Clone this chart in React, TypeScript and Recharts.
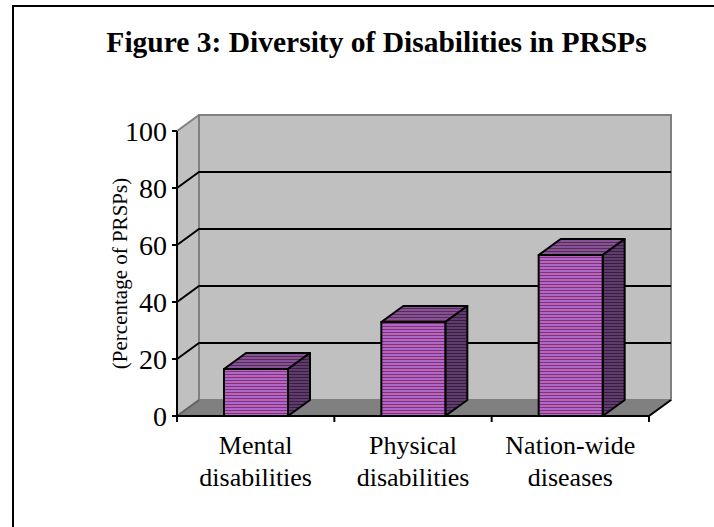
import { Bar, BarChart, ReferenceArea, ReferenceLine, XAxis, YAxis } from 'recharts';

const categories = ['Mental disabilities', 'Physical disabilities', 'Nation-wide diseases'];
const shares = [16.5, 33, 56.5];
const yTicks = [0, 20, 40, 60, 80, 100];
const gridValues = [20, 40, 60, 80];

const data = categories.map((name, i) => ({ name, share: shares[i] }));

// depth of the 3-D box (back plane offset)
const DX = 22;
const DY = 16;
const SERIF = '"Liberation Serif", "Times New Roman", serif';

function Stripes({ id, light, dark }: { id: string; light: string; dark: string }) {
  return (
    <pattern id={id} width={4} height={3} patternUnits="userSpaceOnUse">
      <rect x={0} y={0} width={4} height={2} fill={light} />
      <rect x={0} y={2} width={4} height={1} fill={dark} />
    </pattern>
  );
}

function Walls(props: any) {
  const { x, y, width, height } = props;
  const bottom = y + height;
  return (
    <g>
      <defs>
        <Stripes id="stripeFront" light="#ad68cc" dark="#8c2f68" />
        <Stripes id="stripeTop" light="#855294" dark="#5a2a5e" />
        <Stripes id="stripeSide" light="#5e3c6c" dark="#3a1c40" />
      </defs>
      <polygon
        points={`${x},${y} ${x + DX},${y - DY} ${x + DX},${bottom - DY} ${x},${bottom}`}
        fill="#c0c0c0"
      />
      <rect x={x + DX} y={y - DY} width={width} height={height} fill="#c0c0c0" stroke="#808080" strokeWidth={2} />
      <polygon
        points={`${x},${bottom} ${x + DX},${bottom - DY} ${x + width + DX},${bottom - DY} ${x + width},${bottom}`}
        fill="#808080"
      />
      <line x1={x} y1={y} x2={x + DX} y2={y - DY} stroke="#808080" strokeWidth={2} />
      <line x1={x + DX} y1={y - DY} x2={x + DX} y2={bottom - DY} stroke="#808080" strokeWidth={2} />
      <line x1={x} y1={bottom} x2={x + DX} y2={bottom - DY} stroke="#606060" strokeWidth={2} />
      <line x1={x + width} y1={bottom} x2={x + width + DX} y2={bottom - DY} stroke="#000" strokeWidth={2} />
    </g>
  );
}

// gridline runs up the left wall, then across the back wall
function WallGridLine(props: any) {
  const { x1, y1, x2 } = props;
  return (
    <polyline
      points={`${x1},${y1} ${x1 + DX},${y1 - DY} ${x2 + DX},${y1 - DY}`}
      fill="none"
      stroke="#000"
      strokeWidth={2}
    />
  );
}

function Box3D(props: any) {
  const { x, y, width: w, height: h } = props;
  if (!h) return null;
  const top = `${x},${y} ${x + DX},${y - DY} ${x + w + DX},${y - DY} ${x + w},${y}`;
  const side = `${x + w},${y} ${x + w + DX},${y - DY} ${x + w + DX},${y + h - DY} ${x + w},${y + h}`;
  return (
    <g stroke="#000" strokeWidth={2} strokeLinejoin="round">
      <polygon points={top} fill="url(#stripeTop)" />
      <polygon points={side} fill="url(#stripeSide)" />
      <rect x={x} y={y} width={w} height={h} fill="url(#stripeFront)" />
    </g>
  );
}

function CategoryTick(props: any) {
  const { x, y, payload, index, visibleTicksCount } = props;
  const half = payload.offset ?? 0;
  const words = String(payload.value).split(' ');
  const last = index === visibleTicksCount - 1;
  return (
    <g>
      <line x1={x - half} y1={y} x2={x - half} y2={y + 6} stroke="#000" strokeWidth={2} />
      {last && <line x1={x + half} y1={y} x2={x + half} y2={y + 6} stroke="#000" strokeWidth={2} />}
      <text x={x} y={y} textAnchor="middle" fontFamily={SERIF} fontSize={26} fill="#000">
        <tspan x={x} dy={38}>{words[0]}</tspan>
        <tspan x={x} dy={32}>{words[1]}</tspan>
      </text>
    </g>
  );
}

function YTitle(props: any) {
  const vb = props.viewBox ?? props;
  const cx = vb.x + 3;
  const cy = vb.y + vb.height / 2;
  return (
    <text
      x={cx}
      y={cy}
      transform={`rotate(-90, ${cx}, ${cy})`}
      textAnchor="middle"
      dominantBaseline="central"
      fontFamily={SERIF}
      fontSize={21}
      fill="#000"
    >
      (Percentage of PRSPs)
    </text>
  );
}

export default function App() {
  return (
    <div style={{ position: 'absolute', left: 0, top: 0, width: 714, height: 527, overflow: 'hidden', background: '#fff' }}>
      <svg width={714} height={527} style={{ position: 'absolute', left: 0, top: 0 }}>
        <rect x={13} y={6} width={800} height={600} fill="none" stroke="#000" strokeWidth={2} />
        <text x={376.5} y={52} textAnchor="middle" fontFamily={SERIF} fontWeight="bold" fontSize={29.5} fill="#000">
          Figure 3: Diversity of Disabilities in PRSPs
        </text>
      </svg>
      <div style={{ position: 'absolute', left: 0, top: 0 }}>
        <BarChart width={714} height={527} data={data} margin={{ top: 131, right: 65, bottom: 31, left: 117 }}>
          <ReferenceArea y1={0} y2={100} shape={Walls} ifOverflow="visible" zIndex={-90} />
          {gridValues.map((v) => (
            <ReferenceLine key={v} y={v} shape={WallGridLine} ifOverflow="visible" zIndex={-80} />
          ))}
          <XAxis
            dataKey="name"
            height={80}
            interval={0}
            tickLine={false}
            tickSize={0}
            tickMargin={0}
            axisLine={{ stroke: '#000', strokeWidth: 2 }}
            tick={<CategoryTick />}
          />
          <YAxis
            width={60}
            domain={[0, 100]}
            ticks={yTicks}
            interval={0}
            tickSize={5}
            tickMargin={5}
            axisLine={{ stroke: '#000', strokeWidth: 2 }}
            tickLine={{ stroke: '#000', strokeWidth: 2 }}
            tick={{ fill: '#000', fontSize: 28, fontFamily: SERIF }}
            label={<YTitle />}
          />
          <Bar dataKey="share" barSize={64} shape={Box3D} isAnimationActive={false} />
        </BarChart>
      </div>
    </div>
  );
}
